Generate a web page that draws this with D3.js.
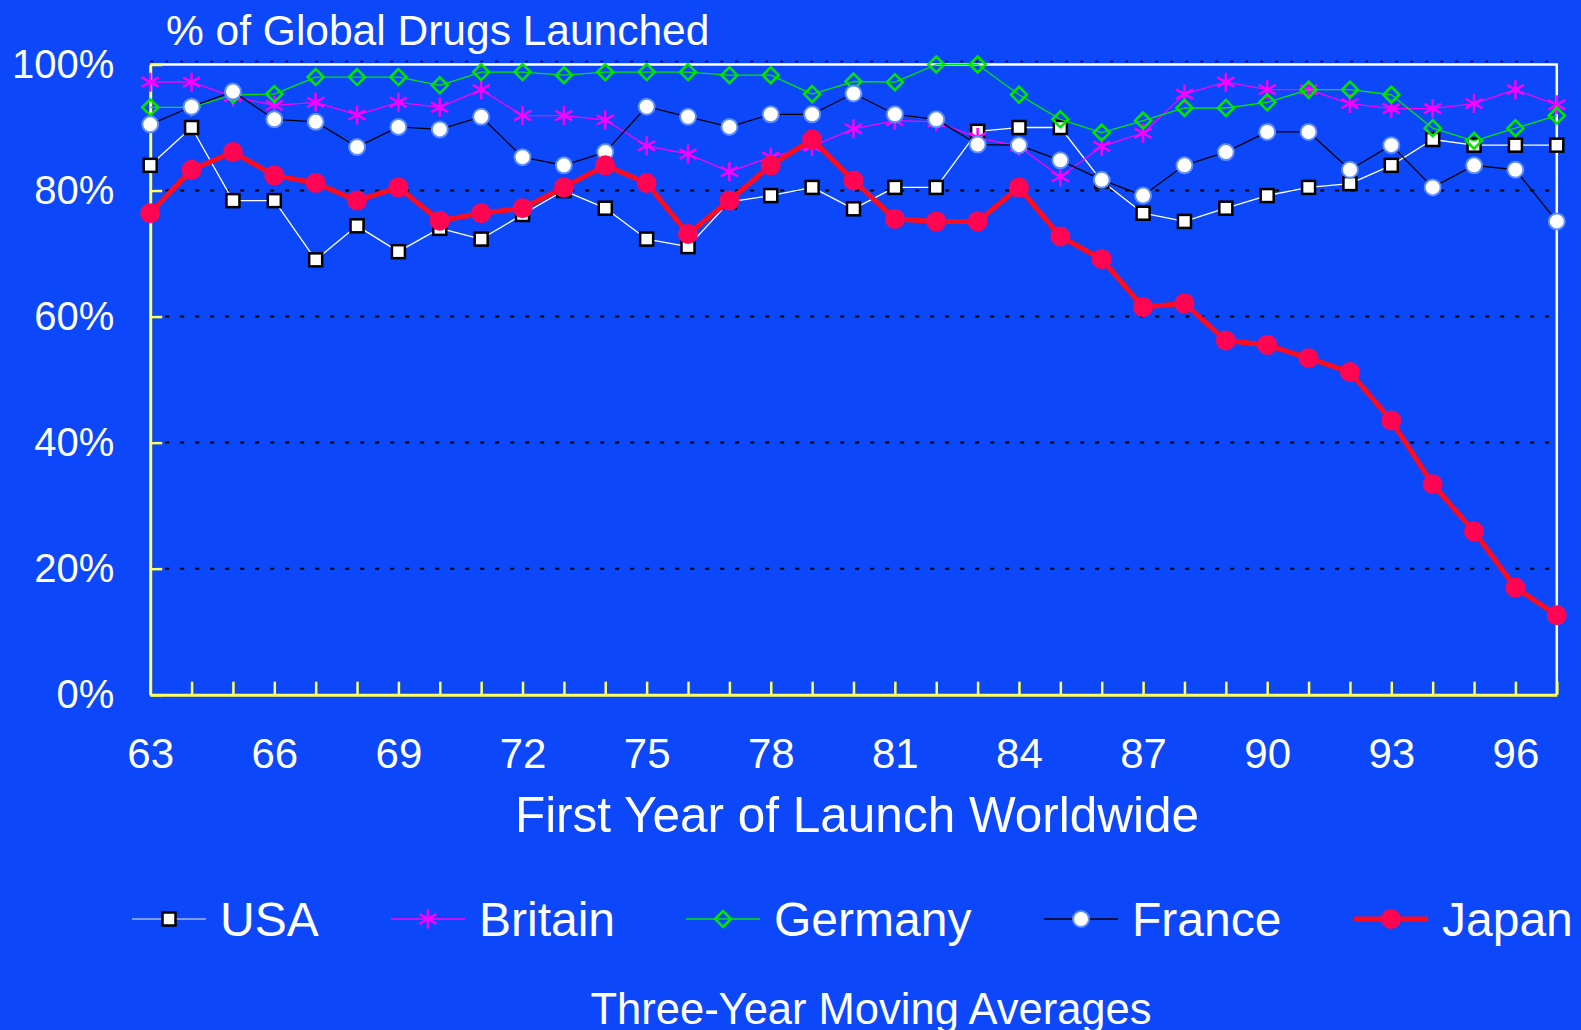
<!DOCTYPE html>
<html>
<head>
<meta charset="utf-8">
<script src="https://cdn.jsdelivr.net/npm/d3@7"></script>
<style>
    body { margin: 0; background: #0c48fa; overflow: hidden; }
    svg { display: block; font-family: "Liberation Sans", Arial, sans-serif; }
</style>
</head>
<body>
<svg id="chart" width="1581" height="1030"></svg>
<script>
// ------------------------------------------------------------------------------------------------------------------------------
// Data (three-year moving averages, % of global drugs launched)
var years   = d3.range(63, 98);
var usa     = [84, 90, 78.4, 78.4, 69, 74.4, 70.3, 74, 72.3, 76.2, 80, 77.2, 72.3, 71.1, 78.2, 79.2, 80.5, 77.1, 80.5, 80.5,
               89.4, 90, 90, 81.5, 76.4, 75.1, 77.2, 79.2, 80.5, 81.1, 84, 88.1, 87.2, 87.2, 87.2];
var britain = [97.2, 97.2, 94.9, 93.5, 94, 92, 94, 93.2, 96, 91.9, 91.9, 91.2, 87.1, 85.8, 83, 85.3, 87, 89.8, 91.1, 90.9,
               88.4, 87, 82.2, 87, 89.1, 95.3, 97.2, 96, 96, 93.8, 93, 93, 93.8, 96, 93.6];
var germany = [93.2, 93.2, 95.2, 95.3, 98, 98, 98, 96.7, 98.8, 98.8, 98.3, 98.8, 98.8, 98.8, 98.3, 98.3, 95.3, 97.3, 97.2, 100,
               100, 95.2, 91.3, 89.2, 91.1, 93.1, 93.1, 94, 96, 96, 95.2, 89.9, 87.9, 89.9, 91.9];
var france  = [90.5, 93.3, 95.7, 91.3, 90.9, 86.9, 90.1, 89.7, 91.7, 85.3, 84, 86.1, 93.3, 91.7, 90.1, 92.1, 92.1, 95.4, 92.1, 91.3,
               87.3, 87.2, 84.8, 81.7, 79.2, 84, 86.1, 89.3, 89.3, 83.3, 87.2, 80.5, 84, 83.3, 75.1];
var japan   = [76.4, 83.3, 86.1, 82.4, 81.2, 78.4, 80.5, 75.2, 76.4, 77.2, 80.5, 84, 81.2, 73.1, 78.4, 84, 88.1, 81.6, 75.5, 75.1,
               75.1, 80.5, 72.7, 69.1, 61.5, 62.1, 56.2, 55.5, 53.4, 51.2, 43.5, 33.4, 25.9, 17, 12.6];

var seriesNames   = ["USA", "Britain", "Germany", "France", "Japan"];
var yTickValues   = [0, 20, 40, 60, 80, 100];
var xLabelYears   = d3.range(63, 97, 3);
var gridValues    = [20, 40, 60, 80];

var titleText  = "% of Global Drugs Launched";
var xTitleText = "First Year of Launch Worldwide";
var noteText   = "Three-Year Moving Averages";

// ------------------------------------------------------------------------------------------------------------------------------
var svg = d3.select("#chart");
var plotLeft = 150.2, plotRight = 1556.8, plotTop = 64.5, plotBottom = 694.7;
var yellow = "#ffff5a";

var x = d3.scaleLinear().domain([63, 97]).range([plotLeft, plotRight]);
var y = d3.scaleLinear().domain([0, 100]).range([plotBottom, plotTop]);

// Gridlines (black dotted)
svg.append("g").selectAll("line")
    .data(gridValues)
    .enter().append("line")
    .attr("x1", plotLeft).attr("x2", plotRight)
    .attr("y1", d => y(d)).attr("y2", d => y(d))
    .attr("stroke", "#000")
    .attr("stroke-width", 2)
    .attr("stroke-dasharray", "4,11");

svg.append("line")
    .attr("x1", plotLeft).attr("x2", plotRight)
    .attr("y1", y(100) - 3).attr("y2", y(100) - 3)
    .attr("stroke", "#000")
    .attr("stroke-width", 1.5)
    .attr("stroke-dasharray", "3,12");

// White frame top and right
svg.append("path")
    .attr("d", "M" + plotLeft + "," + y(100) + "H" + plotRight + "V" + plotBottom)
    .attr("fill", "none")
    .attr("stroke", "#fff")
    .attr("stroke-width", 2.5);

// Axes
var xTicks = svg.append("g")
    .attr("transform", "translate(0," + plotBottom + ")")
    .call(d3.axisBottom(x).tickValues(years).tickSizeInner(-13).tickSizeOuter(0).tickFormat(""));

var xLabels = svg.append("g")
    .attr("transform", "translate(0," + plotBottom + ")")
    .call(d3.axisBottom(x).tickValues(xLabelYears).tickSize(0).tickPadding(43).tickFormat(d => d));

var yAxis = svg.append("g")
    .attr("transform", "translate(" + plotLeft + ",0)")
    .call(d3.axisLeft(y).tickValues(yTickValues).tickSizeInner(-12).tickSizeOuter(0).tickPadding(36).tickFormat(d => d + "%"));

[xTicks, yAxis].forEach(function(g)
{
    g.select(".domain").attr("stroke", yellow).attr("stroke-width", 3);
    g.selectAll(".tick line").attr("stroke", yellow).attr("stroke-width", 2.5);
});
xLabels.select(".domain").remove();
xLabels.selectAll("text")
    .attr("fill", "#fff")
    .style("font-size", "42px")
    .style("font-family", "'Liberation Sans', Arial, sans-serif");
yAxis.selectAll("text")
    .attr("fill", "#fff")
    .style("font-size", "40px")
    .style("font-family", "'Liberation Sans', Arial, sans-serif");

// ------------------------------------------------------------------------------------------------------------------------------
// Marker shapes
var asteriskPath = "M0,-9.5L0,9.5M-8.5,-4.8L8.5,4.8M-8.5,4.8L8.5,-4.8";
var diamondPath  = "M0,-8L8,0L0,8L-8,0Z";

function drawMarker(g, name)
{
    if (name === "USA")
    {
        g.append("rect")
        .attr("x", -6.5).attr("y", -6.5).attr("width", 13).attr("height", 13)
        .attr("fill", "#fff").attr("stroke", "#000").attr("stroke-width", 2.5);
    }
    else if (name === "Britain")
    {
        g.append("path").attr("d", asteriskPath)
        .attr("fill", "none").attr("stroke", "#ff00ff").attr("stroke-width", 2.5);
    }
    else if (name === "Germany")
    {
        g.append("path").attr("d", diamondPath)
        .attr("fill", "none").attr("stroke", "#00e600").attr("stroke-width", 2.5);
    }
    else if (name === "France")
    {
        g.append("circle").attr("r", 8)
        .attr("fill", "#fff").attr("stroke", "#5d8dff").attr("stroke-width", 2);
    }
    else
    {
        g.append("circle").attr("r", 10)
        .attr("fill", "#ff0552");
    }
}

var series = [
    { name: "USA",     values: usa,     line: "#ffffff", width: 1.3 },
    { name: "Britain", values: britain, line: "#ff00ff", width: 1.3 },
    { name: "Germany", values: germany, line: "#00e600", width: 1.3 },
    { name: "France",  values: france,  line: "#000000", width: 1.3 },
    { name: "Japan",   values: japan,   line: "#ff0a1e", width: 5 }
];

var line = d3.line()
    .x((d, i) => x(years[i]))
    .y(d => y(d));

series.forEach(function(s)
{
    var g = svg.append("g");
    g.append("path")
    .attr("d", line(s.values))
    .attr("fill", "none")
    .attr("stroke", s.line)
    .attr("stroke-width", s.width)
    .attr("stroke-linejoin", "round");

    g.selectAll(".mark")
    .data(s.values)
    .enter().append("g")
    .attr("transform", (d, i) => "translate(" + x(years[i]) + "," + y(d) + ")")
    .each(function() { drawMarker(d3.select(this), s.name); });
});

// ------------------------------------------------------------------------------------------------------------------------------
// Titles
svg.append("text")
    .attr("x", 166).attr("y", 45)
    .attr("fill", "#fff")
    .style("font-size", "42.5px")
    .text(titleText);

svg.append("text")
    .attr("x", 857).attr("y", 832)
    .attr("text-anchor", "middle")
    .attr("fill", "#fff")
    .style("font-size", "49.5px")
    .text(xTitleText);

svg.append("text")
    .attr("x", 871).attr("y", 1024)
    .attr("text-anchor", "middle")
    .attr("fill", "#fff")
    .style("font-size", "43.5px")
    .text(noteText);

// Legend
var legendX = [132, 391, 686, 1044, 1354];
var legendY = 919;
series.forEach(function(s, i)
{
    var g = svg.append("g").attr("transform", "translate(" + legendX[i] + "," + legendY + ")");
    g.append("line")
    .attr("x1", 0).attr("x2", 74)
    .attr("stroke", s.name === "USA" ? "#9fb8ff" : s.line)
    .attr("stroke-width", s.width);
    drawMarker(g.append("g").attr("transform", "translate(37,0)"), s.name);
    g.append("text")
    .attr("x", 88).attr("y", 17)
    .attr("fill", "#fff")
    .style("font-size", "48px")
    .text(seriesNames[i]);
});
</script>
</body>
</html>
